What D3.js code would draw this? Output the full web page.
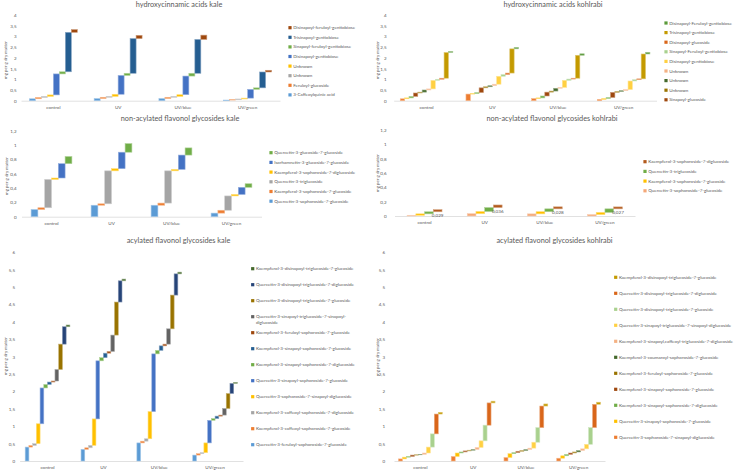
<!DOCTYPE html>
<html><head><meta charset="utf-8">
<script src="https://cdn.jsdelivr.net/npm/d3@7"></script>
<style>
html,body{margin:0;padding:0;background:#fff;}
svg text{font-family:Lato,"Open Sans",sans-serif;fill:#595959;}
</style></head>
<body><svg id="c" width="738" height="471"></svg>
<script>
const categories = ["control","UV","UV/blue","UV/green"];
const yTitle = "mg per g dry matter";

// ---- Panel 1: hydroxycinnamic acids kale (series listed bottom-first)
const hcaKaleNames = ["3-Caffeoylquinic acid","Feruloyl-glucoside","Unknown","Unknown","Disinapoyl-gentiobiose","Sinapoyl-feruloyl-gentiobiose","Trisinapoyl-gentiobiose","Disinapoyl-feruloyl-gentiobiose"];
const hcaKaleValues = [
  [0.09,0.10,0.10,0.03],
  [0.06,0.06,0.06,0.02],
  [0.05,0.04,0.04,0.03],
  [0.07,0.10,0.08,0.04],
  [0.98,0.88,0.87,0.41],
  [0.10,0.10,0.13,0.07],
  [1.84,1.62,1.58,0.74],
  [0.13,0.15,0.20,0.08]
];

// ---- Panel 2: hydroxycinnamic acids kohlrabi
const hcaKohlNames = ["Series 1","Series 2","Series 3","Sinapoyl-glucoside","Unknown","Unknown","Unknown","Disinapoyl-gentiobiose","Sinapoyl-Feruloyl-gentiobiose","Disinapoyl-glucoside","Trisinapoyl-gentiobiose","Disinapoyl-Feruloyl-gentiobiose"];
const hcaKohlValues = [
  [0.09,0.31,0.10,0.06],
  [0.04,0.02,0.03,0.04],
  [0.07,0.05,0.09,0.05],
  [0.16,0.22,0.18,0.24],
  [0.04,0.05,0.05,0.04],
  [0.10,0.05,0.13,0.04],
  [0.05,0.07,0.04,0.05],
  [0.40,0.37,0.33,0.40],
  [0.05,0.08,0.06,0.06],
  [0.05,0.07,0.04,0.04],
  [1.20,1.13,1.07,1.16],
  [0.05,0.07,0.07,0.08]
];
const hcaKohlLegendFrom = 3;

// ---- Panel 3: non-acylated flavonol glycosides kale
const nfKaleNames = ["Quercetin-3-sophoroside-7-glucoside","Kaempferol-3-sophoroside-7-glucoside","Quercetin-3-triglucoside","Kaempferol-3-sophoroside-7-diglucoside","Isorhamnetin-3-glucoside-7-glucoside","Quercetin-3-glucoside-7-glucoside"];
const nfKaleValues = [
  [0.100,0.160,0.160,0.050],
  [0.025,0.020,0.030,0.040],
  [0.395,0.460,0.450,0.200],
  [0.020,0.030,0.020,0.020],
  [0.200,0.230,0.200,0.100],
  [0.100,0.120,0.100,0.050]
];

// ---- Panel 4: non-acylated flavonol glycosides kohlrabi
const nfKohlNames = ["Quercetin-3-sophoroside-7-glucoside","Kaempferol-3-sophoroside-7-glucoside","Quercetin-3-triglucoside","Kaempferol-3-sophoroside-7-diglucoside"];
const nfKohlValues = [
  [0.010,0.033,0.030,0.020],
  [0.020,0.030,0.030,0.030],
  [0.029,0.055,0.040,0.050],
  [0.029,0.036,0.028,0.027]
];
const nfKohlLabelSeries = 3;

// ---- Panel 5: acylated flavonol glycosides kale
const afKaleNames = ["Quercetin-3-feruloyl-sophoroside-7-glucoside","Kaempferol-3-caffeoyl-sophoroside-7-glucoside","Kaempferol-3-caffeoyl-sophoroside-7-diglucoside","Quercetin-3-sophoroside-7-sinapoyl-diglucoside","Quercetin-3-sinapoyl-sophoroside-7-glucoside","Kaempferol-3-sinapoyl-sophoroside-7-diglucoside","Kaempferol-3-sinapoyl-sophoroside-7-glucoside","Kaempferol-3-feruloyl-sophoroside-7-glucoside","Quercetin-3-sinapoyl-triglucoside-7-sinapoyl-diglucoside","Quercetin-3-disinapoyl-triglucoside-7-glucoside","Quercetin-3-disinapoyl-triglucoside-7-diglucoside","Kaempferol-3-disinapoyl-triglucoside-7-glucoside"];
const afKaleValues = [
  [0.400,0.335,0.520,0.170],
  [0.045,0.045,0.050,0.040],
  [0.055,0.070,0.070,0.030],
  [0.570,0.760,0.780,0.280],
  [1.030,1.670,1.660,0.650],
  [0.100,0.090,0.100,0.050],
  [0.070,0.130,0.130,0.070],
  [0.030,0.050,0.050,0.030],
  [0.330,0.470,0.440,0.190],
  [0.730,0.950,0.970,0.430],
  [0.500,0.610,0.610,0.290],
  [0.050,0.050,0.050,0.030]
];

// ---- Panel 6: acylated flavonol glycosides kohlrabi
const afKohlNames = ["Quercetin-3-sophoroside-7-sinapoyl-diglucoside","Quercetin-3-sinapoyl-sophoroside-7-glucoside","Kaempferol-3-sinapoyl-sophoroside-7-diglucoside","Kaempferol-3-sinapoyl-sophoroside-7-glucoside","Kaempferol-3-feruloyl-sophoroside-7-glucoside","Kaempferol-3-coumaroyl-sophoroside-7-glucoside","Kaempferol-3-sinapoyl,caffeoyl-triglucoside-7-diglucoside","Quercetin-3-sinapoyl-triglucoside-7-sinapoyl-diglucoside","Quercetin-3-disinapoyl-triglucoside-7-glucoside","Quercetin-3-disinapoyl-triglucoside-7-diglucoside","Kaempferol-3-disinapoyl-triglucoside-7-glucoside"];
const afKohlValues = [
  [0.06,0.13,0.10,0.08],
  [0.05,0.10,0.11,0.07],
  [0.02,0.03,0.03,0.04],
  [0.04,0.03,0.04,0.04],
  [0.01,0.02,0.02,0.03],
  [0.01,0.02,0.03,0.04],
  [0.04,0.06,0.04,0.05],
  [0.17,0.19,0.17,0.13],
  [0.38,0.45,0.42,0.48],
  [0.57,0.64,0.62,0.67],
  [0.05,0.05,0.06,0.06]
];

// ---- colour palettes (styles, kept apart from the values)
const officePalette = ["#5b9bd5","#ed7d31","#a5a5a5","#ffc000","#4472c4","#70ad47","#255e91","#9e480e","#636363","#997300","#264478","#43682b"];
const colorfulPalette = ["#ed7d31","#ffc000","#70ad47","#9e480e","#997300","#43682b","#f4b183","#ffd042","#a9d18e","#d9661a","#c49a00","#5b9a3a"];
const nfKohlPalette = ["#f4a878","#ffc000","#70ad47","#b25a1c"];

const svg = d3.select("#c");
const fmt = d => d3.format(".1f")(d).replace(/\.0$/,"").replace(".",",");

const panels = [
  {title:"hydroxycinnamic acids kale", names:hcaKaleNames, values:hcaKaleValues, colors:officePalette,
   x0:21, x1:280, yb:100.7, yt:15, ymax:4, step:0.5, frac:0.74, axisX:16.5,
   tx:179, ty:7.3, ytx:5.5, yty:60, lx:290, ly:27.7, ldy:9.6, wrap:99},
  {title:"hydroxycinnamic acids kohlrabi", names:hcaKohlNames, values:hcaKohlValues, colors:colorfulPalette, legendFrom:hcaKohlLegendFrom,
   x0:393.7, x1:656.5, yb:100.7, yt:15, ymax:4, step:0.5, frac:0.8, axisX:386.5,
   tx:553, ty:7.3, ytx:377.5, yty:60, lx:666, ly:23, ldy:9.6, wrap:99},
  {title:"non-acylated flavonol glycosides kale", names:nfKaleNames, values:nfKaleValues, colors:officePalette,
   x0:21.5, x1:261.5, yb:216.7, yt:130.7, ymax:1.2, step:0.2, frac:0.68, axisX:16.5,
   tx:180, ty:120.6, ytx:6, yty:176, lx:271, ly:152.7, ldy:9.7, wrap:99},
  {title:"non-acylated flavonol glycosides kohlrabi", names:nfKohlNames, values:nfKohlValues, colors:nfKohlPalette, labelSeries:nfKohlLabelSeries,
   x0:394.5, x1:635, yb:216, yt:130, ymax:1.2, step:0.2, frac:0.58, axisX:386.5,
   tx:552, ty:120.6, ytx:377.5, yty:173, lx:645, ly:161.7, ldy:9.7, wrap:99},
  {title:"acylated  flavonol glycosides kale", names:afKaleNames, values:afKaleValues, colors:officePalette,
   x0:19.6, x1:243, yb:461, yt:252.3, ymax:6, step:0.5, frac:0.8, axisX:15,
   tx:178.5, ty:243, ytx:5.5, yty:356, lx:252.7, ly:268.7, ldy:16, wrap:50},
  {title:"acylated flavonol glycosides kohlrabi", names:afKohlNames, values:afKohlValues, colors:colorfulPalette,
   x0:394, x1:605, yb:461, yt:252.3, ymax:6, step:0.5, frac:0.83, axisX:385,
   tx:554.5, ty:243, ytx:377.5, yty:357, lx:615.7, ly:277.3, ldy:16, wrap:57}
];

function wrapName(name, maxChars){
  if (name.length <= maxChars) return [name];
  const cut = name.lastIndexOf("-", 46);
  return [name.slice(0, cut+1), name.slice(cut+1)];
}

panels.forEach(p => {
  const g = svg.append("g");
  const x = d3.scaleBand().domain(categories).range([p.x0, p.x1]);
  const n = p.values.length;
  const cw = x.bandwidth()*p.frac;
  const inner = d3.scaleBand().domain(d3.range(n)).range([0, cw]);
  const y = d3.scaleLinear().domain([0, p.ymax]).range([p.yb, p.yt]);

  // title
  g.append("text").attr("x", p.tx).attr("y", p.ty).attr("text-anchor","middle")
    .attr("font-size", 7.3).text(p.title);

  // y axis
  const ticks = d3.range(0, p.ymax + p.step/2, p.step);
  const ya = g.append("g").attr("transform", `translate(${p.axisX},0)`)
    .call(d3.axisLeft(y).tickValues(ticks).tickFormat(fmt).tickSize(0).tickPadding(0));
  ya.select(".domain").remove();
  ya.selectAll("text").attr("font-size", 4.5).attr("fill","#595959").style("font-family","Lato");

  // y title
  g.append("text").attr("transform", `translate(${p.ytx},${p.yty}) rotate(-90)`)
    .attr("text-anchor","middle").attr("dy","0.35em").attr("font-size", 4.4).text(yTitle);

  // x axis
  const xa = g.append("g").attr("transform", `translate(0,${p.yb})`)
    .call(d3.axisBottom(x).tickSize(0).tickPadding(5.2));
  xa.select(".domain").attr("stroke","#d9d9d9").attr("stroke-width",0.8);
  xa.selectAll("text").attr("font-size", 4.6).attr("fill","#595959").style("font-family","Lato");

  // waterfall bars
  categories.forEach((c, ci) => {
    let cum = 0;
    p.values.forEach((vals, si) => {
      const v = vals[ci];
      const col = p.colors[si];
      const bx = x(c) + (x.bandwidth()-cw)/2 + inner(si);
      g.append("rect")
        .attr("x", bx).attr("width", inner.bandwidth())
        .attr("y", y(cum+v)).attr("height", Math.max(0.4, y(cum)-y(cum+v)))
        .attr("fill", col)
        .attr("stroke", d3.interpolateRgb(col, "#ffffff")(0.45)).attr("stroke-width", 0.6);
      if (p.labelSeries === si) {
        g.append("text").attr("x", bx + inner.bandwidth()/2).attr("y", y(cum) + 3.6)
          .attr("text-anchor","middle").attr("dy","0.35em")
          .attr("font-size", 4.6).attr("fill","#404040").text(d3.format(".3f")(v).replace(".",","));
      }
      cum += v;
    });
  });

  // legend (top = last series)
  const from = p.legendFrom || 0;
  const idx = d3.range(from, n).reverse();
  idx.forEach((si, k) => {
    const ly = p.ly + k*p.ldy;
    g.append("rect").attr("x", p.lx-1.6).attr("y", ly-1.6).attr("width",3.2).attr("height",3.2).attr("fill", p.colors[si]);
    const lines = wrapName(p.names[si], p.wrap);
    lines.forEach((ln, li) => {
      g.append("text").attr("x", p.lx+3.2).attr("y", ly + li*6).attr("dy","0.34em")
        .attr("font-size", 4.5).text(ln);
    });
  });
});
</script></body></html>
